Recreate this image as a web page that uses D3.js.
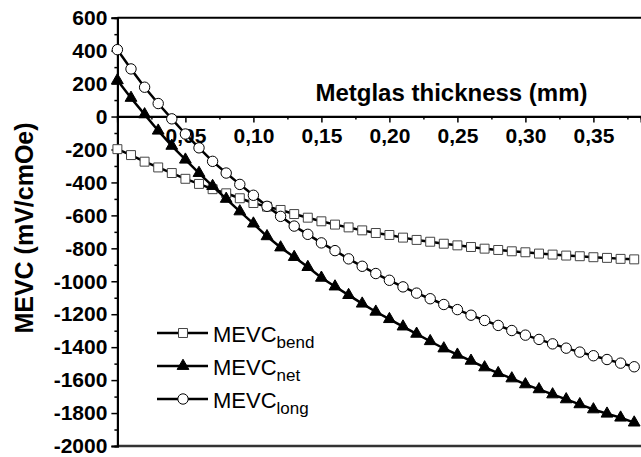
<!DOCTYPE html>
<html>
<head>
<meta charset="utf-8">
<script src="https://cdnjs.cloudflare.com/ajax/libs/d3/7.8.5/d3.min.js"></script>
<style>
    body { margin: 0; background: #fff; }
    svg { display: block; font-family: "Liberation Sans", Arial, sans-serif; }
</style>
</head>
<body>
<div id="demo"></div>
<script>
// thickness (mm), one point every 0.01 mm
let thickness = [0, 0.01, 0.02, 0.03, 0.04, 0.05, 0.06, 0.07, 0.08, 0.09,
    0.10, 0.11, 0.12, 0.13, 0.14, 0.15, 0.16, 0.17, 0.18, 0.19,
    0.20, 0.21, 0.22, 0.23, 0.24, 0.25, 0.26, 0.27, 0.28, 0.29,
    0.30, 0.31, 0.32, 0.33, 0.34, 0.35, 0.36, 0.37, 0.38];

let mevcBend = [-198, -234, -274, -309, -343, -378, -409, -441, -466, -496,
    -525, -547, -567, -592, -614, -636, -656, -673, -691, -707,
    -719, -735, -749, -760, -772, -782, -792, -802, -810, -818,
    -824, -832, -838, -844, -848, -854, -858, -864, -867];

let mevcNet = [220, 113, 13, -86, -178, -262, -343, -422, -500, -576,
    -650, -727, -795, -853, -914, -979, -1032, -1084, -1136, -1185,
    -1230, -1275, -1319, -1364, -1408, -1446, -1483, -1523, -1558, -1590,
    -1626, -1656, -1687, -1717, -1747, -1778, -1804, -1828, -1858];

let mevcLong = [406, 289, 178, 79, -14, -106, -190, -272, -343, -412,
    -478, -545, -606, -665, -715, -767, -814, -864, -909, -953,
    -994, -1034, -1072, -1106, -1141, -1172, -1206, -1238, -1268, -1299,
    -1327, -1353, -1380, -1406, -1430, -1452, -1475, -1497, -1519];

let xTicks = [0.05, 0.10, 0.15, 0.20, 0.25, 0.30, 0.35];
let xMinorTicks = [0.025, 0.075, 0.125, 0.175, 0.225, 0.275, 0.325, 0.375];
let yTicks = [-2000, -1800, -1600, -1400, -1200, -1000, -800, -600, -400, -200, 0, 200, 400, 600];
let yMinorTicks = [-1900, -1700, -1500, -1300, -1100, -900, -700, -500, -300, -100, 100, 300, 500];

let seriesNames = ["bend", "net", "long"];
let seriesValues = [mevcBend, mevcNet, mevcLong];

let w = 641;
let h = 457;
let m = {top: 17.7, left: 117.4, bottom: 446};

let svg = d3.select("#demo")
    .append("svg")
    .attr("width", w)
    .attr("height", h);

// x scale: 0.05 mm is about 68 px
let x = d3.scaleLinear()
    .domain([0, 0.385])
    .range([m.left, m.left + 0.385 * 1360]);

let y = d3.scaleLinear()
    .domain([-2000, 600])
    .range([m.bottom, m.top]);

//Frame lines (top and bottom)
svg.append("line")
    .attr("x1", m.left).attr("x2", w)
    .attr("y1", y(600)).attr("y2", y(600))
    .attr("stroke", "#000").attr("stroke-width", 2);

svg.append("line")
    .attr("x1", m.left).attr("x2", w)
    .attr("y1", y(-2000)).attr("y2", y(-2000))
    .attr("stroke", "#333").attr("stroke-width", 2.5);

//Left axis with minor ticks
const yAxis = d3.axisLeft(y)
    .tickValues(yTicks)
    .tickSize(6)
    .tickPadding(4)
    .tickFormat(d => String(d));

const gy = svg.append("g")
    .attr("transform", "translate(" + m.left + ",0)")
    .call(yAxis);

svg.append("g")
    .attr("transform", "translate(" + m.left + ",0)")
    .call(d3.axisLeft(y).tickValues(yMinorTicks).tickSize(3).tickFormat(""));

//x axis sits on the zero line
const xAxis = d3.axisBottom(x)
    .tickValues(xTicks)
    .tickSize(6)
    .tickPadding(6)
    .tickFormat(d => d.toFixed(2).replace(".", ","));

const gx = svg.append("g")
    .attr("transform", "translate(0," + y(0) + ")")
    .call(xAxis);

svg.append("g")
    .attr("transform", "translate(0," + y(0) + ")")
    .call(d3.axisBottom(x).tickValues(xMinorTicks).tickSize(3).tickFormat(""));

// the zero line runs across the whole plot
svg.append("line")
    .attr("x1", m.left).attr("x2", w)
    .attr("y1", y(0)).attr("y2", y(0))
    .attr("stroke", "#000").attr("stroke-width", 1.5);

svg.selectAll(".domain").attr("stroke", "#000").attr("stroke-width", 2);
svg.selectAll(".tick line").attr("stroke", "#000").attr("stroke-width", 1.5);

gy.selectAll("text")
    .attr("font-size", 21)
    .attr("font-weight", "bold")
    .attr("fill", "#000")
    .attr("font-family", "Liberation Sans, Arial, sans-serif");

gx.selectAll("text")
    .attr("font-size", 21)
    .attr("font-weight", "bold")
    .attr("fill", "#000")
    .attr("font-family", "Liberation Sans, Arial, sans-serif");

//Axis titles
svg.append("text")
    .attr("x", 451.5)
    .attr("y", 101)
    .attr("text-anchor", "middle")
    .attr("font-size", 24)
    .attr("font-weight", "bold")
    .text("Metglas thickness (mm)");

svg.append("text")
    .attr("transform", "translate(33,228) rotate(-90)")
    .attr("text-anchor", "middle")
    .attr("font-size", 25)
    .attr("font-weight", "bold")
    .text("MEVC (mV/cmOe)");

// marker shapes per series
let symbols = {
    bend: d3.symbol().type(d3.symbolSquare).size(80),
    net: d3.symbol().type(d3.symbolTriangle).size(60),
    long: d3.symbol().type(d3.symbolCircle).size(85)
};
let fills = {bend: "#fff", net: "#000", long: "#fff"};
let strokes = {bend: "#444", net: "#000", long: "#000"};

const line = d3.line()
    .x((d, i) => x(thickness[i]))
    .y(d => y(d));

seriesNames.forEach((name, k) => {
    let vals = seriesValues[k];
    svg.append("path")
        .datum(vals)
        .attr("d", line)
        .attr("fill", "none")
        .attr("stroke", "#000")
        .attr("stroke-width", 2.5);

    svg.append("g").selectAll("path")
        .data(vals)
        .enter()
        .append("path")
        .attr("d", symbols[name])
        .attr("transform", (d, i) => "translate(" + x(thickness[i]) + "," + y(d) + ")")
        .attr("fill", fills[name])
        .attr("stroke", strokes[name])
        .attr("stroke-width", 1);
});

//Legend
let legendRows = [333, 366, 399];
const legend = svg.append("g").attr("id", "legend");

seriesNames.forEach((name, k) => {
    legend.append("line")
        .attr("x1", 157).attr("x2", 208)
        .attr("y1", legendRows[k]).attr("y2", legendRows[k])
        .attr("stroke", "#000").attr("stroke-width", 2.5);

    legend.append("path")
        .attr("d", symbols[name])
        .attr("transform", "translate(183," + legendRows[k] + ")")
        .attr("fill", fills[name])
        .attr("stroke", strokes[name])
        .attr("stroke-width", 1);

    let t = legend.append("text")
        .attr("x", 213)
        .attr("y", legendRows[k] + 9)
        .attr("font-size", 22);
    t.append("tspan").text("MEVC");
    t.append("tspan")
        .attr("font-size", 17)
        .attr("dy", 6)
        .text(name);
});
</script>
</body>
</html>
